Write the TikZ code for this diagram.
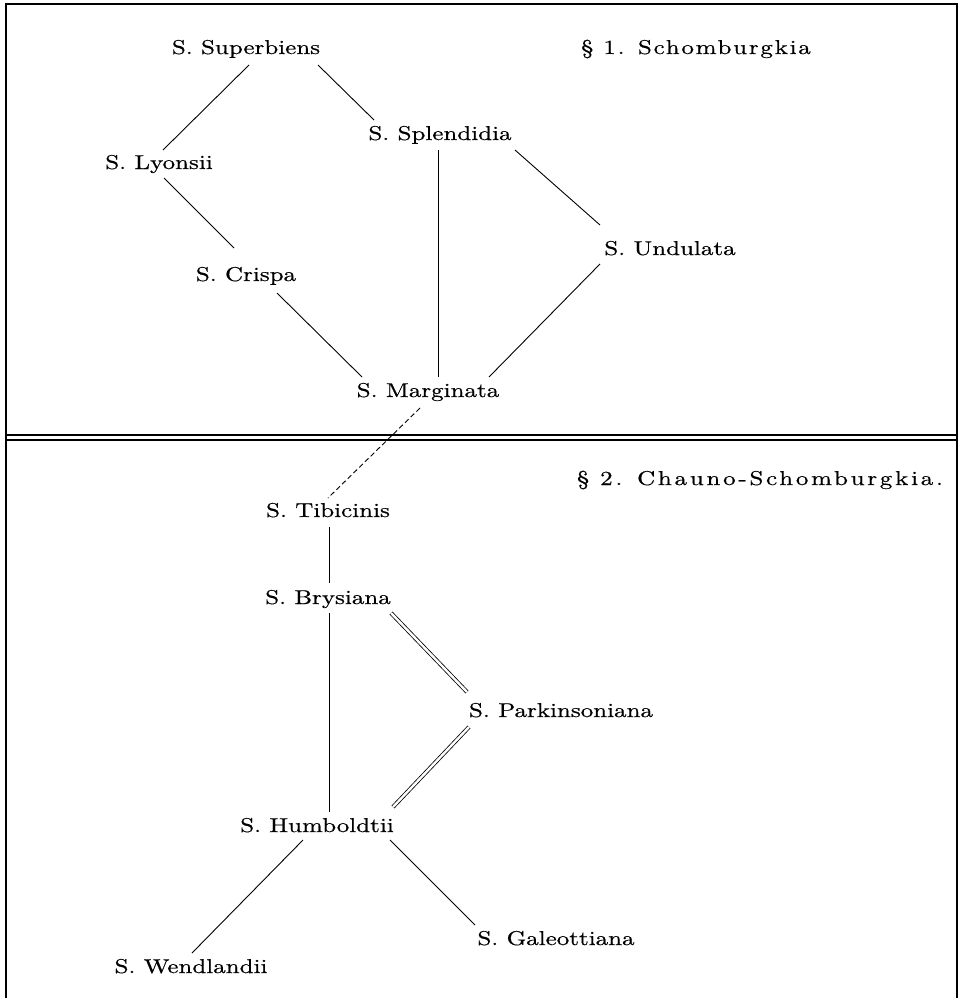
\documentclass[tikz,border=0pt]{standalone}
\usepackage{fontspec}
\setmainfont{lmroman10-regular.otf}[FakeBold=0.5]
\newfontfamily\spacedfont{lmroman10-regular.otf}[LetterSpace=7,FakeBold=0.5]
\newfontfamily\widespacedfont{lmroman10-regular.otf}[LetterSpace=11,FakeBold=0.5]
\usetikzlibrary{calc}
\tikzset{
  lbl/.style={inner sep=0pt, anchor=base, font=\fontsize{20}{24}\selectfont},
  ttl/.style={inner sep=0pt, anchor=base, font=\spacedfont\fontsize{20}{24}\selectfont},
  ttlw/.style={inner sep=0pt, anchor=base, font=\widespacedfont\fontsize{20}{24}\selectfont},
  conn/.style={line width=0.9pt},
  dconn/.style={line width=0.9pt, dash pattern=on 5pt off 3pt},
  dbl/.style={draw=black, line width=0.8pt, double=white, double distance=2.4pt},
  frame/.style={line width=2.4pt, line join=miter},
}
\newcommand{\wide}[1]{\scalebox{1.25}[1]{#1}}
\begin{document}
\begin{tikzpicture}[x=1pt,y=-1pt]
\useasboundingbox (0,0) rectangle (965,998);
% frame
\draw[frame] (6,998) -- (6,4) -- (957,4) -- (957,998);
\draw[line width=1.2pt] (6,435) -- (957,435);
\draw[line width=1.2pt] (6,440) -- (957,440);

% titles
\node[ttl] (sec1) at (696,54) {\wide{\S{} 1. Schomburgkia}};
\node[ttlw] (sec2) at (760,485) {\wide{\S{} 2. Chauno-Schomburgkia.}};

% nodes
\node[lbl] (sup) at (246,54) {\wide{S. Superbiens}};
\node[lbl] (spl) at (440,140) {\wide{S. Splendidia}};
\node[lbl] (lyo) at (159,169) {\wide{S. Lyonsii}};
\node[lbl] (und) at (670,255) {\wide{S. Undulata}};
\node[lbl] (cri) at (246,281) {\wide{S. Crispa}};
\node[lbl] (mar) at (428,397) {\wide{S. Marginata}};
\node[lbl] (tib) at (328,517) {\wide{S. Tibicinis}};
\node[lbl] (bry) at (328,604) {\wide{S. Brysiana}};
\node[lbl] (par) at (561,717) {\wide{S. Parkinsoniana}};
\node[lbl] (hum) at (317,832) {\wide{S. Humboldtii}};
\node[lbl] (gal) at (556,945) {\wide{S. Galeottiana}};
\node[lbl] (wen) at (191,973) {\wide{S. Wendlandii}};

% connectors
\draw[conn] ([shift={(3,11)}]sup.base) -- ([shift={(4,-19)}]lyo.base);
\draw[conn] ([shift={(72,11)}]sup.base) -- ([shift={(-66,-20)}]spl.base);
\draw[conn] ([shift={(5,9)}]lyo.base) -- ([shift={(-12,-33)}]cri.base);
\draw[conn] ([shift={(-2,10)}]spl.base) -- ([shift={(10,-20)}]mar.base);
\draw[conn] ([shift={(75,10)}]spl.base) -- ([shift={(-70,-30)}]und.base);
\draw[conn] ([shift={(31,12)}]cri.base) -- ([shift={(-66,-20)}]mar.base);
\draw[conn] ([shift={(-70,9)}]und.base) -- ([shift={(61,-20)}]mar.base);
\draw[dconn] ([shift={(-8,11)}]mar.base) -- ([shift={(0,-19)}]tib.base);
\draw[conn] ([shift={(1,10)}]tib.base) -- ([shift={(1,-21)}]bry.base);
\draw[conn] ([shift={(1,9)}]bry.base) -- ([shift={(12,-20)}]hum.base);
\draw[dbl] ([shift={(63,9)}]bry.base) -- ([shift={(-94,-25)}]par.base);
\draw[dbl] ([shift={(-92,10)}]par.base) -- ([shift={(76,-25)}]hum.base);
\draw[conn] ([shift={(-14,8)}]hum.base) -- ([shift={(1,-20)}]wen.base);
\draw[conn] ([shift={(73,8)}]hum.base) -- ([shift={(-81,-20)}]gal.base);
\end{tikzpicture}
\end{document}
